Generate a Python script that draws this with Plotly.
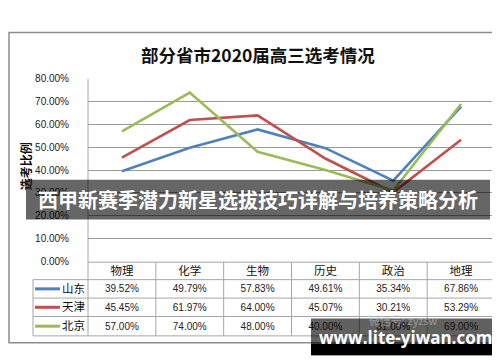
import plotly.graph_objects as go

# ---------------- data ----------------
categories = ["物理", "化学", "生物", "历史", "政治", "地理"]
series_names = ["山东", "天津", "北京"]
shandong = [39.52, 49.79, 57.83, 49.61, 35.34, 67.86]
tianjin = [45.45, 61.97, 64.00, 45.07, 30.21, 53.29]
beijing = [57.00, 74.00, 48.00, 40.00, 31.00, 69.00]
series_values = [shandong, tianjin, beijing]
y_ticks = [0, 10, 20, 30, 40, 50, 60, 70, 80]
title_text = "部分省市2020届高三选考情况"
y_title = "选考比例"
banner_text = "西甲新赛季潜力新星选拔技巧详解与培养策略分析"
url_text = "www.lite-yiwan.com"
watermark_text = "微信号: zyzsw"

# ---------------- layout constants ----------------
W, H = 500, 362
colors = ["#4F81BD", "#C0504D", "#9BBB59"]
PX_L, PX_R = 80, 487
PY_TOP, PY_ZERO = 68, 256
TBL_L = 25
ROW_Y = [257, 275, 294, 313, 333]
GRID_C = "#9a9a9a"
TBL_C = "#a6a6a6"


def fx(px):
    return px / W


def fy(py):
    return 1 - py / H


n = len(categories)
col_w = (PX_R - PX_L) / n
col_edges = [PX_L + i * col_w for i in range(n + 1)]
col_centers = [PX_L + (i + 0.5) * col_w for i in range(n)]

fig = go.Figure()

# main line traces
for name, vals, c in zip(series_names, series_values, colors):
    fig.add_trace(go.Scatter(
        x=list(range(n)), y=[v / 100 for v in vals], mode="lines", name=name,
        line=dict(color=c, width=2.6), xaxis="x", yaxis="y", showlegend=False,
        hoverinfo="skip"))

# table text as traces on a full-figure pixel axis
tx, ty, tt = [], [], []
hdr_y = (ROW_Y[0] + ROW_Y[1]) / 2
for cx, cat in zip(col_centers, categories):
    tx.append(cx); ty.append(hdr_y + 1); tt.append(cat)
fig.add_trace(go.Scatter(x=tx, y=ty, text=tt, mode="text", xaxis="x2", yaxis="y2",
                         textfont=dict(family="Noto Sans CJK SC", size=11.5, color="#111"),
                         showlegend=False, hoverinfo="skip"))
vx, vy, vt = [], [], []
nx, ny, nt = [], [], []
for r, (name, vals) in enumerate(zip(series_names, series_values)):
    yc = (ROW_Y[r + 1] + ROW_Y[r + 2]) / 2 + 1
    for cx, v in zip(col_centers, vals):
        vx.append(cx); vy.append(yc); vt.append(f"{v:.2f}%")
    nx.append(65.5); ny.append(yc); nt.append(name)
fig.add_trace(go.Scatter(x=vx, y=vy, text=vt, mode="text", xaxis="x2", yaxis="y2",
                         textfont=dict(family="Liberation Sans", size=10, color="#222"),
                         showlegend=False, hoverinfo="skip"))
fig.add_trace(go.Scatter(x=nx, y=ny, text=nt, mode="text", xaxis="x2", yaxis="y2",
                         textfont=dict(family="Noto Sans CJK SC", size=11.5, color="#111"),
                         showlegend=False, hoverinfo="skip"))

shapes = []
# outer border
shapes.append(dict(type="rect", xref="paper", yref="paper", x0=fx(1), x1=fx(499),
                   y0=fy(340), y1=fy(20), line=dict(color="#8c8c8c", width=1.5),
                   layer="below"))
# table lines
for yy in ROW_Y[1:]:
    shapes.append(dict(type="line", xref="paper", yref="paper", x0=fx(TBL_L), x1=fx(PX_R),
                       y0=fy(yy), y1=fy(yy), line=dict(color=TBL_C, width=1), layer="below"))
shapes.append(dict(type="line", xref="paper", yref="paper", x0=fx(PX_L), x1=fx(PX_R),
                   y0=fy(ROW_Y[0]), y1=fy(ROW_Y[0]), line=dict(color=TBL_C, width=1), layer="below"))
shapes.append(dict(type="line", xref="paper", yref="paper", x0=fx(TBL_L), x1=fx(TBL_L),
                   y0=fy(ROW_Y[1]), y1=fy(ROW_Y[-1]), line=dict(color=TBL_C, width=1), layer="below"))
for i, xe in enumerate(col_edges):
    top = PY_TOP if i == 0 else ROW_Y[0]
    shapes.append(dict(type="line", xref="paper", yref="paper", x0=fx(xe), x1=fx(xe),
                       y0=fy(top), y1=fy(ROW_Y[-1]), line=dict(color=TBL_C, width=1), layer="below"))
# legend keys in table
for r, c in enumerate(colors):
    yc = (ROW_Y[r + 1] + ROW_Y[r + 2]) / 2
    shapes.append(dict(type="line", xref="paper", yref="paper", x0=fx(27), x1=fx(52),
                       y0=fy(yc), y1=fy(yc), line=dict(color=c, width=3), layer="below"))
# banner overlay
shapes.append(dict(type="rect", xref="paper", yref="paper", x0=fx(18), x1=fx(482),
                   y0=fy(213), y1=fy(172), fillcolor="rgba(0,0,0,0.6)", line=dict(width=0),
                   layer="above"))
# bottom-right box
shapes.append(dict(type="rect", xref="paper", yref="paper", x0=fx(303), x1=fx(491),
                   y0=fy(353), y1=fy(315), fillcolor="rgba(0,0,0,0.62)", line=dict(width=0),
                   layer="above"))
shapes.append(dict(type="rect", xref="paper", yref="paper", x0=fx(303), x1=fx(491),
                   y0=fy(353), y1=fy(341), fillcolor="#000000", line=dict(width=0),
                   layer="above"))

annotations = [
    dict(text=f"<b>{title_text}</b>", x=0.5, y=fy(43), xref="paper", yref="paper",
         showarrow=False, font=dict(family="Noto Sans CJK SC", size=17.5, color="#111"),
         xanchor="center", yanchor="middle"),
    dict(text=f"<b>{y_title}</b>", x=fx(17), y=fy(158), xref="paper", yref="paper",
         showarrow=False, textangle=-90, font=dict(family="Noto Sans CJK SC", size=12, color="#111"),
         xanchor="center", yanchor="middle"),
    dict(text=f"<b>{banner_text}</b>", x=fx(250), y=fy(192), xref="paper", yref="paper",
         showarrow=False, font=dict(family="Noto Sans CJK SC", size=20, color="#ffffff"),
         xanchor="center", yanchor="middle"),
    dict(text=watermark_text, x=fx(395), y=fy(317), xref="paper", yref="paper",
         showarrow=False, font=dict(family="Noto Sans CJK SC", size=11, color="rgba(210,210,210,0.5)"),
         xanchor="center", yanchor="middle"),
    dict(text=f"<b>{url_text}</b>", x=fx(397), y=fy(335), xref="paper", yref="paper",
         showarrow=False, font=dict(family="Open Sans", size=17, color="#ffffff"),
         xanchor="center", yanchor="middle"),
]

fig.update_layout(
    width=W, height=H, margin=dict(l=0, r=0, t=0, b=0),
    paper_bgcolor="white", plot_bgcolor="rgba(0,0,0,0)",
    showlegend=False,
    xaxis=dict(domain=[fx(PX_L), fx(PX_R)], range=[-0.5, n - 0.5], showticklabels=False,
               showgrid=False, zeroline=False, showline=False, anchor="y", fixedrange=True),
    yaxis=dict(domain=[fy(PY_ZERO), fy(PY_TOP)], range=[0, 0.8], tickvals=[t / 100 for t in y_ticks],
               tickformat=".2%", showgrid=True, gridcolor=GRID_C, gridwidth=1, zeroline=False,
               showline=False, ticklabelstandoff=18, anchor="x",
               tickfont=dict(family="Liberation Sans", size=10, color="#222")),
    xaxis2=dict(domain=[0, 1], range=[0, W], visible=False, anchor="y2", fixedrange=True),
    yaxis2=dict(domain=[0, 1], range=[H, 0], visible=False, anchor="x2", fixedrange=True),
    shapes=shapes, annotations=annotations,
)

fig.write_html("out.html")
